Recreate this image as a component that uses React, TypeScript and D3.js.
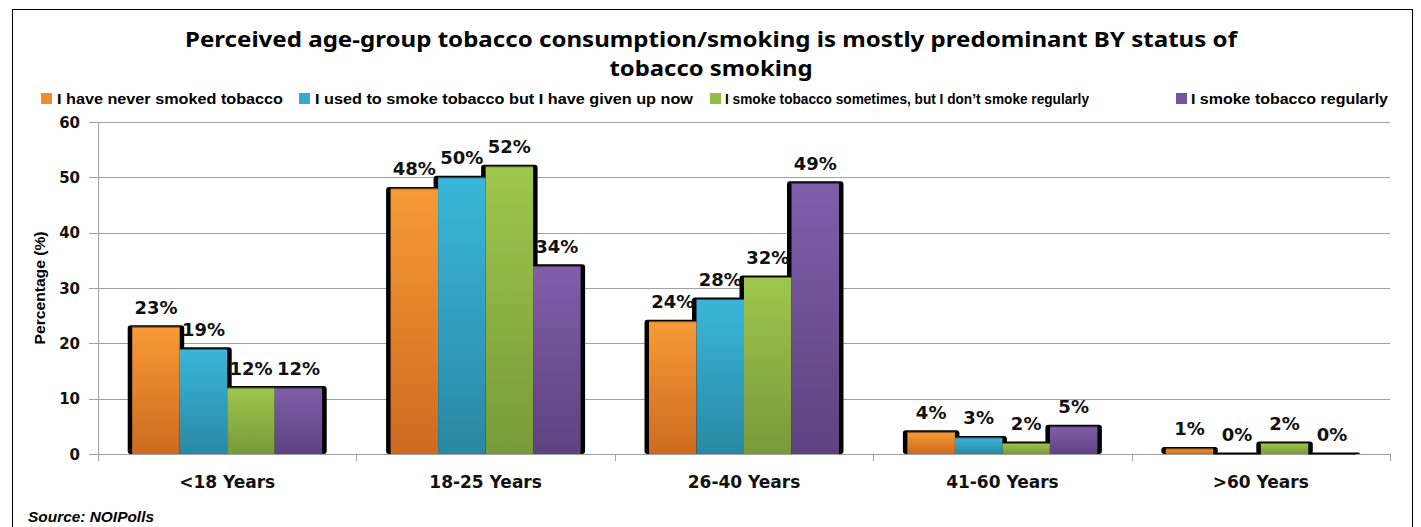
import React from "react";
import * as d3 from "d3";

const categories = ["<18 Years", "18-25 Years", "26-40 Years", "41-60 Years", ">60 Years"];
const seriesNames = [
  "I have never smoked tobacco",
  "I used to smoke tobacco but I have given up now",
  "I smoke tobacco sometimes, but I don\u2019t smoke regularly",
  "I smoke tobacco regularly",
];
const neverSmoked = [23, 48, 24, 4, 1];
const usedToSmoke = [19, 50, 28, 3, 0];
const sometimes = [12, 52, 32, 2, 2];
const regularly = [12, 34, 49, 5, 0];
const yTicks = [0, 10, 20, 30, 40, 50, 60];

const seriesValues = [neverSmoked, usedToSmoke, sometimes, regularly];
const colors = [
  { top: "#F89A36", bottom: "#CE6A1F", legend: "#F08A2C" },
  { top: "#3AB6DA", bottom: "#2A88A3", legend: "#35ABCF" },
  { top: "#9EC74C", bottom: "#789A39", legend: "#93BE45" },
  { top: "#805EAA", bottom: "#5E4280", legend: "#7553A0" },
];
const legendLayout = [
  { sq: 41, tx: 57, tw: 226 },
  { sq: 299, tx: 315, tw: 378 },
  { sq: 710, tx: 725, tw: 364 },
  { sq: 1176, tx: 1191, tw: 197 },
];

export default function App() {
  const W = 1421;
  const H = 527;
  const left = 98;
  const right = 1390;
  const y = d3.scaleLinear().domain([0, 60]).range([454, 122]);
  const x0 = d3.scaleBand<string>().domain(categories).range([left, right]).paddingInner(0).paddingOuter(0);
  const x1 = d3
    .scaleBand<number>()
    .domain(d3.range(seriesValues.length))
    .range([0, x0.bandwidth()])
    .paddingInner(0)
    .paddingOuter(0.72);

  const bars: { x: number; w: number; y0: number; v: number; s: number }[] = [];
  categories.forEach((c, ci) => {
    seriesValues.forEach((vals, si) => {
      bars.push({ x: (x0(c) as number) + (x1(si) as number), w: x1.bandwidth(), y0: y(vals[ci]), v: vals[ci], s: si });
    });
  });

  const num = "'DejaVu Sans', Verdana, sans-serif";
  const cal = "'Liberation Sans', Arial, sans-serif";

  return (
    <svg width={W} height={H} style={{ display: "block", position: "absolute", left: 0, top: 0 }}>
      <defs>
        {colors.map((c, i) => (
          <linearGradient key={i} id={`g${i}`} x1="0" y1="0" x2="0" y2="1">
            <stop offset="0%" stopColor={c.top} />
            <stop offset="100%" stopColor={c.bottom} />
          </linearGradient>
        ))}
      </defs>
      <rect x={0} y={0} width={W} height={H} fill="#fff" />
      <rect x={12.5} y={9.5} width={1400} height={540} fill="none" stroke="#000" strokeWidth={1} />

      {/* title */}
      <text x={711} y={47} textAnchor="middle" fontFamily="'Noto Sans', 'Open Sans', sans-serif" fontWeight="bold" fontSize={22}
        textLength={1052} lengthAdjust="spacingAndGlyphs">
        Perceived age-group tobacco consumption/smoking is mostly predominant BY status of
      </text>
      <text x={711} y={76} textAnchor="middle" fontFamily="'Noto Sans', 'Open Sans', sans-serif" fontWeight="bold" fontSize={22}
        textLength={203} lengthAdjust="spacingAndGlyphs">
        tobacco smoking
      </text>

      {/* legend */}
      {seriesNames.map((n, i) => (
        <g key={i}>
          <rect x={legendLayout[i].sq} y={93} width={11} height={11} fill={colors[i].legend} />
          <text x={legendLayout[i].tx} y={104} fontFamily={cal} fontWeight="bold" fontSize={14.5}
            textLength={legendLayout[i].tw} lengthAdjust="spacingAndGlyphs">
            {n}
          </text>
        </g>
      ))}

      {/* grid */}
      {yTicks.map((t) => (
        <g key={t}>
          <line x1={left - 9} x2={right} y1={Math.round(y(t)) + 0.5} y2={Math.round(y(t)) + 0.5} stroke="#A0A0A0" strokeWidth={1} />
          <text x={80} y={y(t) + 5.5} textAnchor="end" fontFamily={num} fontWeight="bold" fontSize={15} fill="#111">
            {t}
          </text>
        </g>
      ))}
      <line x1={left + 0.5} x2={left + 0.5} y1={y(60)} y2={461} stroke="#A0A0A0" />
      {categories.map((c) => (
        <line key={c} x1={Math.round(x0(c) as number) + 0.5} x2={Math.round(x0(c) as number) + 0.5} y1={454} y2={461} stroke="#A0A0A0" />
      ))}
      <line x1={right + 0.5} x2={right + 0.5} y1={454} y2={461} stroke="#A0A0A0" />

      {/* shadows */}
      {bars.map((b, i) => (
        <rect key={`s${i}`} x={b.x - 4.5} y={b.y0 - 1.5} width={b.w + 9} height={454 - b.y0 + 1.5} rx={3} fill="#000" />
      ))}
      {/* bars */}
      {bars.map((b, i) => (
        <rect key={`b${i}`} x={b.x} y={b.y0} width={b.w} height={454 - b.y0} fill={`url(#g${b.s})`} />
      ))}
      {bars.map((b, i) => (
        <line key={`e${i}`} x1={b.x} x2={b.x + b.w} y1={b.y0 + 0.5} y2={b.y0 + 0.5} stroke="#000" strokeOpacity={0.5} />
      ))}

      {/* data labels */}
      {bars.map((b, i) => (
        <text key={`l${i}`} x={b.x + b.w / 2} y={b.y0 - 13} textAnchor="middle" fontFamily={num} fontWeight="bold" fontSize={18} fill="#111">
          {`${b.v}%`}
        </text>
      ))}

      {/* x labels */}
      {categories.map((c) => (
        <text key={c} x={(x0(c) as number) + x0.bandwidth() / 2} y={488} textAnchor="middle" fontFamily={num} fontWeight="bold" fontSize={17} fill="#111">
          {c}
        </text>
      ))}

      {/* y title */}
      <text transform="translate(45,288) rotate(-90)" textAnchor="middle" fontFamily={cal} fontWeight="bold" fontSize={15}
        textLength={113} lengthAdjust="spacingAndGlyphs">
        Percentage (%)
      </text>

      <text x={28} y={522} fontFamily={cal} fontWeight="bold" fontStyle="italic" fontSize={14} textLength={126} lengthAdjust="spacingAndGlyphs">
        Source: NOIPolls
      </text>
    </svg>
  );
}
